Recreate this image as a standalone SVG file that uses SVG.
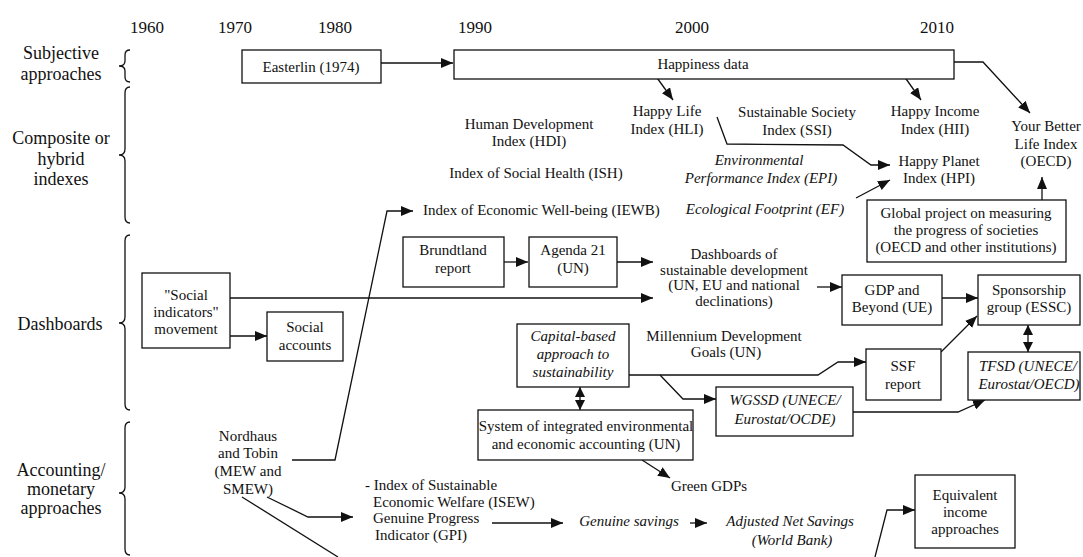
<svg xmlns="http://www.w3.org/2000/svg" width="1083" height="557" viewBox="0 0 1083 557">
<style>
.t{font-family:"Liberation Serif","Times New Roman",serif;font-size:15px;fill:#111;text-anchor:middle}
.s{text-anchor:start}
.i{font-style:italic}
.lbl{font-size:18px}
.yr{font-size:17px}
.box{fill:#fff;stroke:#111;stroke-width:1.3}
.ln{fill:none;stroke:#111;stroke-width:1.3}
.a{marker-end:url(#ah)}
.d{marker-start:url(#ah2);marker-end:url(#ah2)}
.br{fill:none;stroke:#111;stroke-width:1.3}
</style>
<defs>
<marker id="ah" markerUnits="userSpaceOnUse" markerWidth="12" markerHeight="10" refX="12" refY="5" orient="auto"><path d="M0,0 L12,5 L0,10 z" fill="#111"/></marker>
<marker id="ah2" markerUnits="userSpaceOnUse" markerWidth="10" markerHeight="10" refX="10" refY="5" orient="auto-start-reverse"><path d="M0,0 L10,5 L0,10 z" fill="#111"/></marker>
</defs>
<rect width="1083" height="557" fill="#fff"/>

<g id="years">
<text class="t yr" x="147" y="33">1960</text>
<text class="t yr" x="235" y="33">1970</text>
<text class="t yr" x="335" y="33">1980</text>
<text class="t yr" x="475" y="33">1990</text>
<text class="t yr" x="692" y="33">2000</text>
<text class="t yr" x="937" y="33">2010</text>
</g>

<g id="categories">
<text class="t lbl" x="61" y="59">Subjective<tspan x="61" dy="21">approaches</tspan></text>
<text class="t lbl" x="61" y="144">Composite or<tspan x="61" dy="21">hybrid</tspan><tspan x="61" dy="20">indexes</tspan></text>
<text class="t lbl" x="60" y="330">Dashboards</text>
<text class="t lbl" x="61" y="476">Accounting/<tspan x="61" dy="19">monetary</tspan><tspan x="61" dy="19">approaches</tspan></text>
<path class="br" d="M130,50 Q125,50 125,55 L125,61 Q125,66 119,66 Q125,66 125,71 L125,77 Q125,82 130,82"/>
<path class="br" d="M130,87 Q125,87 125,93 L125,149 Q125,155 119,155 Q125,155 125,161 L125,217 Q125,223 130,223"/>
<path class="br" d="M130,235 Q125,235 125,241 L125,317 Q125,323 119,323 Q125,323 125,329 L125,404 Q125,410 130,410"/>
<path class="br" d="M130,422 Q125,422 125,428 L125,487 Q125,493 119,493 Q125,493 125,499 L125,549 Q125,555 130,555"/>
</g>

<g id="connectors">
<path class="ln a" d="M381,63 L453,63"/>
<path class="ln a" d="M655,75 L673,100"/>
<path class="ln a" d="M904,76 L921,100"/>
<path class="ln a" d="M941,62 L983,62 L1030,113"/>
<path class="ln a" d="M717,117 L727,144 L843,145 L871,165 L890,165"/>
<path class="ln a" d="M856,198 L890,180"/>
<path class="ln a" d="M1042,200 L1042,177"/>
<path class="ln a" d="M292,460 L335,460 L387,211 L413,211"/>
<path class="ln a" d="M504,262 L528,262"/>
<path class="ln a" d="M617,262 L653,262"/>
<path class="ln a" d="M230,298 L653,298"/>
<path class="ln a" d="M230,336 L267,336"/>
<path class="ln a" d="M817,287 L842,287"/>
<path class="ln a" d="M942,298 L978,298"/>
<path class="ln a" d="M941,352 L977,316"/>
<path class="ln d" d="M1028,325 L1028,352"/>
<path class="ln a" d="M629,375 L818,375 L838,362 L866,362"/>
<path class="ln a" d="M660,375 L683,399 L716,399"/>
<path class="ln a" d="M853,412 L958,412 L985,400"/>
<path class="ln d" d="M580,387 L580,410"/>
<path class="ln a" d="M642,460 L670,478"/>
<path class="ln a" d="M267,497 L308,517 L353,517"/>
<path class="ln" d="M242,497 L338,557"/>
<path class="ln a" d="M492,523 L563,523"/>
<path class="ln a" d="M690,523 L707,523"/>
<path class="ln a" d="M875,557 L887,510 L915,510"/>
</g>

<g id="easterlin"><rect class="box" x="242" y="50" width="139" height="33"/><text class="t" x="311" y="72">Easterlin (1974)</text></g>
<g id="happiness"><rect class="box" x="454" y="50" width="500" height="29"/><text class="t" x="703" y="69">Happiness data</text></g>
<g id="hli"><text class="t" x="667" y="116">Happy Life<tspan x="667" dy="18">Index (HLI)</tspan></text></g>
<g id="ssi"><text class="t" x="797" y="117">Sustainable Society<tspan x="797" dy="18">Index (SSI)</tspan></text></g>
<g id="hii"><text class="t" x="935" y="116">Happy Income<tspan x="935" dy="18">Index (HII)</tspan></text></g>
<g id="ybl"><text class="t" x="1046" y="131">Your Better<tspan x="1046" dy="18">Life Index</tspan><tspan x="1046" dy="17">(OECD)</tspan></text></g>
<g id="hdi"><text class="t" x="529" y="129">Human Development<tspan x="529" dy="17">Index  (HDI)</tspan></text></g>
<g id="ish"><text class="t" x="536" y="178">Index of Social Health (ISH)</text></g>
<g id="epi"><text class="t i" x="759" y="165">Environmental<tspan x="761" dy="18">Performance Index (EPI)</tspan></text></g>
<g id="hpi"><text class="t" x="939" y="166">Happy Planet<tspan x="939" dy="17">Index (HPI)</tspan></text></g>
<g id="ef"><text class="t i" x="765" y="214">Ecological Footprint (EF)</text></g>
<g id="iewb"><text class="t s" x="423" y="215">Index of Economic Well-being (IEWB)</text></g>
<g id="global"><rect class="box" x="867" y="200" width="199" height="62"/><text class="t" x="966" y="218" fill="#333">Global project on measuring<tspan x="966" dy="17">the progress of societies</tspan><tspan x="966" dy="17">(OECD and other institutions)</tspan></text></g>
<g id="brundtland"><rect class="box" x="403" y="237" width="101" height="50"/><text class="t" x="453" y="255">Brundtland<tspan x="453" dy="18">report</tspan></text></g>
<g id="agenda21"><rect class="box" x="529" y="237" width="88" height="50"/><text class="t" x="573" y="255">Agenda 21<tspan x="573" dy="18">(UN)</tspan></text></g>
<g id="dashboards-sd"><text class="t" x="734" y="259">Dashboards of<tspan x="734" dy="15.5">sustainable development</tspan><tspan x="734" dy="15.5">(UN, EU and national</tspan><tspan x="734" dy="15.5">declinations)</tspan></text></g>
<g id="social-indicators"><rect class="box" x="142" y="273" width="88" height="75" /><text class="t" x="186" y="300">"Social<tspan x="186" dy="17">indicators"</tspan><tspan x="186" dy="17">movement</tspan></text></g>
<g id="social-accounts"><rect class="box" x="267" y="312" width="76" height="49"/><text class="t" x="305" y="332">Social<tspan x="305" dy="18">accounts</tspan></text></g>
<g id="gdp-beyond"><rect class="box" x="842" y="275" width="100" height="50"/><text class="t" x="892" y="295">GDP and<tspan x="892" dy="17">Beyond (UE)</tspan></text></g>
<g id="sponsorship"><rect class="box" x="978" y="275" width="102" height="50"/><text class="t" x="1029" y="295">Sponsorship<tspan x="1029" dy="17">group (ESSC)</tspan></text></g>
<g id="mdg"><text class="t" x="724" y="341">Millennium  Development<tspan x="726" dy="16">Goals (UN)</tspan></text></g>
<g id="capital"><rect class="box" x="517" y="324" width="112" height="63"/><text class="t i" x="573" y="341">Capital-based<tspan x="573" dy="18">approach  to</tspan><tspan x="573" dy="18">sustainability</tspan></text></g>
<g id="ssf"><rect class="box" x="866" y="349" width="75" height="51"/><text class="t" x="903" y="371">SSF<tspan x="903" dy="18">report</tspan></text></g>
<g id="tfsd"><rect class="box" x="968" y="352" width="112" height="48"/><text class="t i" x="1028" y="371">TFSD (UNECE/<tspan x="1029" dy="18">Eurostat/OECD)</tspan></text></g>
<g id="wgssd"><rect class="box" x="716" y="387" width="137" height="49"/><text class="t i" x="785" y="405">WGSSD (UNECE/<tspan x="785" dy="19">Eurostat/OCDE)</tspan></text></g>
<g id="seea"><rect class="box" x="478" y="410" width="215" height="50"/><text class="t" x="586" y="431">System of integrated environmental<tspan x="586" dy="18">and economic accounting (UN)</tspan></text></g>
<g id="green-gdps"><text class="t" x="709" y="491">Green GDPs</text></g>
<g id="nordhaus"><text class="t" x="248" y="441">Nordhaus<tspan x="248" dy="17">and Tobin</tspan><tspan x="248" dy="18">(MEW and</tspan><tspan x="248" dy="18">SMEW)</tspan></text></g>
<g id="isew"><text class="t s" x="365" y="490">- Index of Sustainable<tspan x="373" dy="17">Economic Welfare (ISEW)</tspan><tspan x="373" dy="16">Genuine Progress</tspan><tspan x="375" dy="17">Indicator (GPI)</tspan></text></g>
<g id="genuine-savings"><text class="t i" x="629" y="526">Genuine savings</text></g>
<g id="ans"><text class="t i" x="790" y="526">Adjusted Net Savings<tspan x="792" dy="19">(World Bank)</tspan></text></g>
<g id="equivalent"><rect class="box" x="915" y="475" width="100" height="73"/><text class="t" x="965" y="500">Equivalent<tspan x="965" dy="17">income</tspan><tspan x="965" dy="17">approaches</tspan></text></g>
</svg>
